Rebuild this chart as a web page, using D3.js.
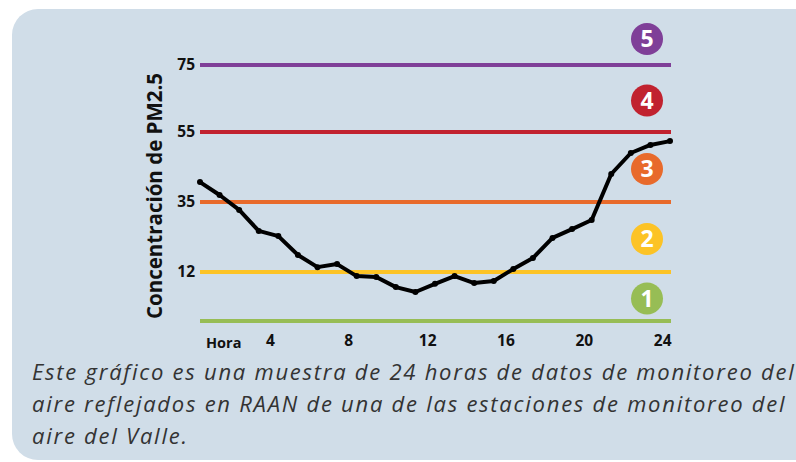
<!DOCTYPE html>
<html>
<head>
<meta charset="utf-8">
<script src="https://cdn.jsdelivr.net/npm/d3@7"></script>
<style>
  body { margin: 0; background: #fff; }
  svg { display: block; }
  .tick text { font-family: "Open Sans", sans-serif; font-weight: 700; fill: #111; }
</style>
</head>
<body>
<div id="chart"></div>
<script>
// hourly PM2.5 values
var hours = [0, 1, 2, 3, 4, 5, 6, 7, 8, 9, 10, 11, 12, 13, 14, 15, 16, 17, 18, 19, 20, 21, 22, 23, 24];
var pm25  = [40.7, 37, 32.4, 25.5, 23.8, 17.6, 13.6, 14.6, 11, 10.8, 8.3, 7.1, 9.1, 11, 9.3, 9.8, 13, 16.6, 23.2, 26.1, 29.1, 43, 49, 51.3, 52.4];

var levels      = [0, 12, 35, 55, 75];
var levelColors = ['#97bd55', '#fcc326', '#e86a2b', '#c1222f', '#7f3f98'];
var levelNames  = ['1', '2', '3', '4', '5'];
var xTicks      = [4, 8, 12, 16, 20, 24];
var yTicks      = [12, 35, 55, 75];

var caption = [
  'Este gráfico es una muestra de 24 horas de datos de monitoreo del',
  'aire reflejados en RAAN de una de las estaciones de monitoreo del',
  'aire del Valle.'
];

var width  = 796;
var height = 462;

var svg = d3.select('#chart').append('svg')
            .attr('width', width)
            .attr('height', height);

// panel
svg.append('rect')
   .attr('x', 12).attr('y', 9)
   .attr('width', 820).attr('height', 451)
   .attr('rx', 26)
   .attr('fill', '#d0dde8');

// the bands are drawn evenly, not to value, so the scale is piecewise
var x = d3.scaleLinear().domain([0, 24]).range([200, 670]);
var y = d3.scaleLinear().domain(levels).range([321, 272, 202, 132, 65]);

var lineEnd = 671;

svg.append('g').selectAll('line')
   .data(levels).enter()
   .append('line')
   .attr('x1', x(0)).attr('x2', lineEnd)
   .attr('y1', function(d) { return y(d); })
   .attr('y2', function(d) { return y(d); })
   .attr('stroke', function(d, i) { return levelColors[i]; })
   .attr('stroke-width', 4);

// numbered badges, one per band
var badgeX = 647;
var badge = svg.append('g').selectAll('g')
   .data(levels).enter()
   .append('g')
   .attr('transform', function(d, i) {
     var cy;
     if (i < levels.length - 1) {
       cy = (y(d) + y(levels[i + 1])) / 2 + 2;
     } else {
       cy = y(d) - 26;
     }
     return 'translate(' + badgeX + ',' + cy + ')';
   });

badge.append('circle')
     .attr('r', 16)
     .attr('fill', function(d, i) { return levelColors[i]; });

badge.append('text')
     .text(function(d, i) { return levelNames[i]; })
     .attr('text-anchor', 'middle')
     .attr('dy', '0.36em')
     .attr('fill', '#fff')
     .style('font-family', '"Open Sans", sans-serif')
     .style('font-weight', 700)
     .style('font-size', '23px');

// axes
var yAxis = svg.append('g')
   .attr('transform', 'translate(' + x(0) + ',0)')
   .call(d3.axisLeft(y).tickValues(yTicks).tickSize(0).tickPadding(5));
yAxis.select('.domain').remove();
yAxis.selectAll('text').style('font-size', '15.5px');

var xAxis = svg.append('g')
   .attr('transform', 'translate(0,' + y(0) + ')')
   .call(d3.axisBottom(x).tickValues(xTicks).tickSize(0).tickPadding(14));
xAxis.select('.domain').remove();
xAxis.selectAll('text')
     .style('font-size', '15.5px')
     .attr('text-anchor', 'end')
     // single digits sit a little further left, as in the original
     .attr('dx', function(d) { return d < 10 ? '-4px' : '1px'; });

svg.append('text')
   .text('Hora')
   .attr('x', 206)
   .attr('y', 348)
   .style('font-family', '"Open Sans", sans-serif')
   .style('font-weight', 700)
   .style('font-size', '14.5px')
   .attr('fill', '#111');

svg.append('text')
   .text('Concentración de PM2.5')
   .attr('transform', 'translate(162,196) rotate(-90)')
   .attr('text-anchor', 'middle')
   .style('font-family', '"Open Sans", sans-serif')
   .style('font-weight', 700)
   .style('font-size', '20.5px')
   .attr('fill', '#111');

// the series
var line = d3.line()
   .x(function(d, i) { return x(hours[i]); })
   .y(function(d) { return y(d); });

svg.append('path')
   .datum(pm25)
   .attr('d', line)
   .attr('fill', 'none')
   .attr('stroke', '#000')
   .attr('stroke-width', 4)
   .attr('stroke-linejoin', 'round');

svg.append('g').selectAll('circle')
   .data(pm25).enter()
   .append('circle')
   .attr('cx', function(d, i) { return x(hours[i]); })
   .attr('cy', function(d) { return y(d); })
   .attr('r', 3)
   .attr('fill', '#000');

// caption
svg.append('g').selectAll('text')
   .data(caption).enter()
   .append('text')
   .text(function(d) { return d; })
   .attr('x', 32)
   .attr('y', function(d, i) { return 380 + i * 32; })
   .style('font-family', '"Open Sans", sans-serif')
   .style('font-style', 'italic')
   .style('font-size', '22px')
   .style('letter-spacing', '1.75px')
   .attr('fill', '#333');
</script>
</body>
</html>
